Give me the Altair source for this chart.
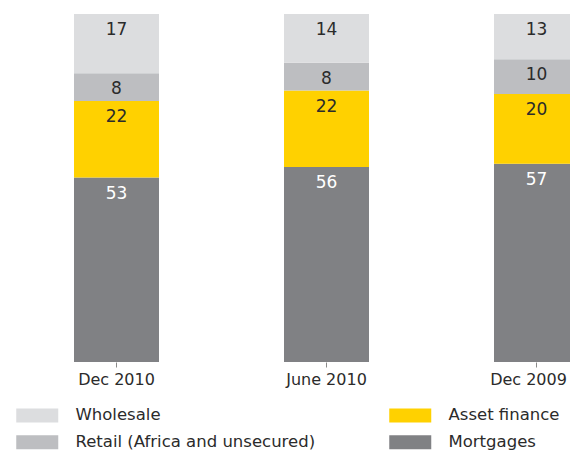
import altair as alt
import pandas as pd

periods = ["Dec 2010", "June 2010", "Dec 2009"]
series = ["Mortgages", "Asset finance", "Retail (Africa and unsecured)", "Wholesale"]
mortgages = [53, 56, 57]
asset_finance = [22, 22, 20]
retail = [8, 8, 10]
wholesale = [17, 14, 13]

legend_order = ["Wholesale", "Retail (Africa and unsecured)", "Asset finance", "Mortgages"]
colors = ["#dcdddf", "#bdbec1", "#ffd100", "#808184"]

rows = []
for name, vals in zip(series, [mortgages, asset_finance, retail, wholesale]):
    for p, v in zip(periods, vals):
        rows.append({"period": p, "series": name, "value": v, "ord": series.index(name)})
df = pd.DataFrame(rows)

FONT = "DejaVu Sans"

base = alt.Chart(df).transform_stack(
    stack="value", groupby=["period"], as_=["y0", "y1"],
    sort=[alt.SortField("ord", order="ascending")],
)

x = alt.X(
    "period:N", sort=periods, title=None,
    scale=alt.Scale(range=[3.5, 633.5], paddingInner=0, paddingOuter=0),
    axis=alt.Axis(domain=False, ticks=True, tickSize=5, tickColor="#8a8a8a",
                  labelAngle=0, labelFont=FONT, labelFontSize=16, labelColor="#2b2b2b",
                  labelPadding=4,
                  labelOffset={"condition": {"test": "datum.value === 'Dec 2009'", "value": -8},
                               "value": 0}),
)
y = alt.Y("y1:Q", scale=alt.Scale(domain=[0, 100], range=[354, 6]), axis=None)

bars = base.mark_bar(width=85, clip=True).encode(
    x=x, y=y, y2="y0:Q",
    color=alt.Color(
        "series:N",
        scale=alt.Scale(domain=legend_order, range=colors),
        legend=alt.Legend(
            orient="none", legendX=21, legendY=399, columns=2, columnPadding=73,
            rowPadding=10, symbolType="M-3,-1H3V1H-3Z", symbolSize=196,
            symbolStrokeWidth=0, labelOffset=30, labelFont=FONT, labelFontSize=16.5,
            labelColor="#2b2b2b", labelLimit=0, title=None, symbolOpacity=1,
        ),
    ),
)

labels = base.mark_text(baseline="middle", dy=16, fontSize=17, font=FONT, clip=True).encode(
    x=x, y=y,
    text=alt.Text("value:Q"),
    color=alt.condition(alt.datum.series == "Mortgages", alt.value("#ffffff"), alt.value("#2b2b2b")),
)

chart = alt.layer(bars, labels).properties(
    width=562, height=354,
    background="white",
    autosize=alt.AutoSizeParams(type="none"),
    padding={"left": 0, "top": 0, "right": 0, "bottom": 89},
).configure_view(strokeWidth=0, stroke="transparent")

chart.save("out.html", embed_options={"renderer": "svg", "actions": False})
